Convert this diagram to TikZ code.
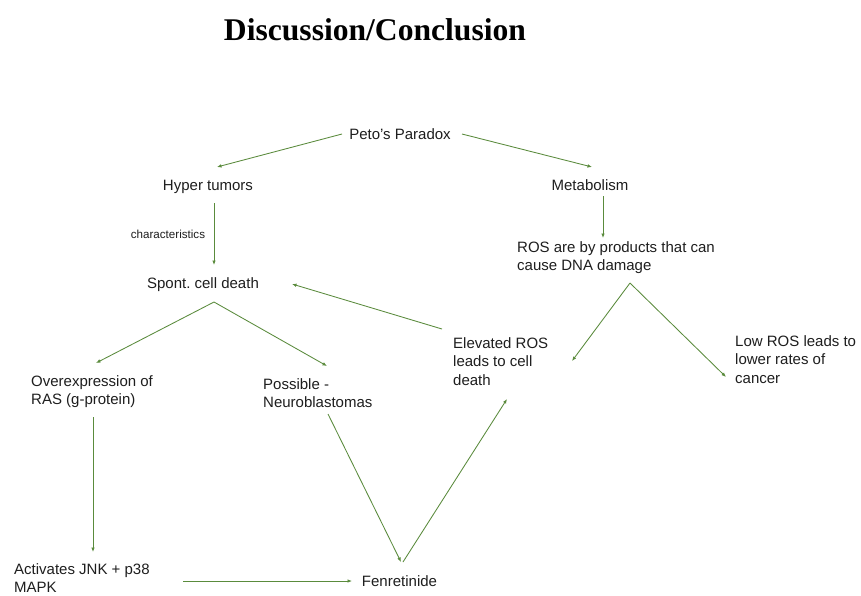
\documentclass[tikz,border=0pt]{standalone}
\usepackage{fontspec}
\setmainfont{Liberation Sans}
\newfontfamily\titlefont{Liberation Serif}
\usetikzlibrary{arrows.meta,calc}
\definecolor{linegreen}{HTML}{5A8B3C}
\definecolor{txt}{HTML}{1E1E1E}
\tikzset{
  lbl/.style={inner sep=0pt, text=txt, font=\fontsize{15}{18.6}\selectfont},
  mlbl/.style={lbl, align=left, anchor=north west},
  arr/.style={draw=linegreen, line width=0.85pt, -{Latex[length=4.5pt,width=3.6pt]}},
}
\frenchspacing
\begin{document}
\begin{tikzpicture}[x=1pt,y=-1pt]
\useasboundingbox[fill=white] (0,0) rectangle (861,595);
% title
\node[inner sep=0pt, anchor=base, font=\titlefont\bfseries\fontsize{31.6}{36}\selectfont] (title) at (375,40) {Discussion/Conclusion};
% single-line nodes
\node[lbl, anchor=base] (peto) at (400,139) {Peto’s Paradox};
\node[lbl, anchor=base] (hyper) at (208,190) {Hyper tumors};
\node[lbl, anchor=base] (metab) at (590,190) {Metabolism};
\node[lbl, anchor=base] (spont) at (203,288) {Spont. cell death};
\node[inner sep=0pt, text=txt, anchor=base, font=\fontsize{11.6}{14}\selectfont] (char) at (168,238) {characteristics};
\node[lbl, anchor=base] (fen) at (399.5,586) {Fenretinide};
% multi-line nodes
\node[mlbl] (ros) at (517,241) {ROS are by products that can\\cause DNA damage};
\node[mlbl] (elev) at (453,337) {Elevated ROS\\leads to cell\\death};
\node[mlbl] (low) at (735,335) {Low ROS leads to\\lower rates of\\cancer};
\node[mlbl] (over) at (31,375) {Overexpression of\\RAS (g-protein)};
\node[mlbl] (poss) at (263,378) {Possible -\\Neuroblastomas};
\node[mlbl, font=\fontsize{15}{18}\selectfont] (act) at (14,563.5) {Activates JNK + p38\\MAPK};
% connectors
\draw[arr] ($(peto.base)+(-58,-5)$) -- ($(hyper.base)+(9,-23)$);
\draw[arr] ($(peto.base)+(62,-5)$) -- ($(metab.base)+(2,-23)$);
\draw[arr] ($(hyper.base)+(6,13)$) -- ($(spont.base)+(11,-23)$);
\draw[arr] ($(metab.base)+(13,6)$) -- ($(ros.north west)+(86,-3)$);
\draw[arr] ($(spont.base)+(11,14)$) -- ($(over.north west)+(65,-12)$);
\draw[arr] ($(spont.base)+(11,14)$) -- ($(poss.north west)+(64,-12)$);
\draw[arr] ($(elev.north west)+(-11,-8)$) -- ($(spont.base)+(89,-4)$);
\draw[arr] ($(ros.north west)+(113,42)$) -- ($(elev.north west)+(119,24)$);
\draw[arr] ($(ros.north west)+(113,42)$) -- ($(low.north west)+(-9,42)$);
\draw[arr] ($(over.north west)+(62,42)$) -- ($(act.north west)+(79,-11.5)$);
\draw[arr] ($(poss.north west)+(65,36)$) -- ($(fen.base)+(1.5,-24)$);
\draw[arr] ($(fen.base)+(3.5,-24)$) -- ($(elev.north west)+(54,62)$);
\draw[arr] ($(act.north west)+(169,17.5)$) -- ($(fen.base)+(-47.5,-5)$);
\end{tikzpicture}
\end{document}
